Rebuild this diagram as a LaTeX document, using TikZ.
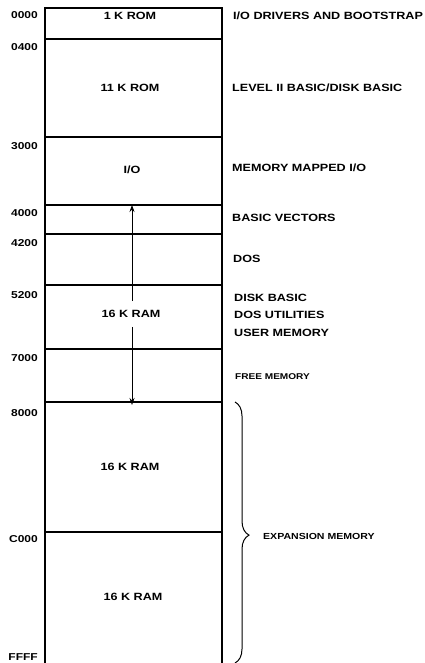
\documentclass[tikz,border=0pt]{standalone}
\usepackage{fontspec}
\setmainfont{Liberation Sans}[FakeStretch=1.2]
\usetikzlibrary{arrows.meta,decorations.pathreplacing}
\begin{document}
\begin{tikzpicture}[x=1pt,y=-1pt,
  box/.style={line width=1.2pt},
  sep/.style={line width=1.4pt},
  addr/.style={anchor=east,font=\fontsize{10}{11}\selectfont\bfseries,inner sep=0pt},
  lbl/.style={anchor=center,font=\fontsize{10.5}{12}\selectfont\bfseries,inner sep=0pt},
  desc/.style={anchor=west,font=\fontsize{10.5}{12}\selectfont\bfseries,inner sep=0pt},
  small/.style={anchor=west,font=\fontsize{8.4}{10}\selectfont\bfseries,inner sep=0pt},
  exp/.style={anchor=west,font=\fontsize{8.8}{10}\selectfont\bfseries,inner sep=0pt},
  arr/.style={line width=0.8pt,-{Stealth[length=7pt,width=5pt]}}]
\useasboundingbox (0,0) rectangle (425,663);
% outline
\draw[box] (45,665) -- (45,8) -- (222,8) -- (222,665);
% separators
\draw[sep] (45,39) -- (222,39);
\draw[sep] (45,137) -- (222,137);
\coordinate (l4000) at (132,205);
\draw[sep] (45,205) -- (222,205);
\draw[sep] (45,234) -- (222,234);
\draw[sep] (45,285) -- (222,285);
\draw[sep] (45,349) -- (222,349);
\coordinate (l8000) at (132,402);
\draw[sep] (45,402) -- (222,402);
\draw[sep] (45,532) -- (222,532);
% addresses
\node[addr] (a0) at (38,15) {0000};
\node[addr] (a1) at (38,47) {0400};
\node[addr] (a2) at (38,146) {3000};
\node[addr] (a3) at (38,213) {4000};
\node[addr] (a4) at (38,243) {4200};
\node[addr] (a5) at (38,295) {5200};
\node[addr] (a6) at (38,358) {7000};
\node[addr] (a7) at (38,413) {8000};
\node[addr] (a8) at (38,539) {C000};
\node[addr] (a9) at (38,657) {FFFF};
% block labels
\node[lbl] (rom1) at (130,16) {1 K ROM};
\node[lbl] (rom11) at (130,88) {11 K ROM};
\node[lbl] (io) at (132,170) {I/O};
\node[lbl,fill=white,inner xsep=2pt,inner ysep=9pt] (ram1) at (131,314) {16 K RAM};
\node[lbl] (ram2) at (130,467) {16 K RAM};
\node[lbl] (ram3) at (133,597) {16 K RAM};
% arrows
\draw[arr] (ram1.north -| l4000) -- (l4000);
\draw[arr] (ram1.south -| l4000) -- ([yshift=-3pt]l8000);
% descriptions
\node[desc] (d0) at (233,16) {I/O DRIVERS AND BOOTSTRAP};
\node[desc] (d1) at (232,88) {LEVEL II BASIC/DISK BASIC};
\node[desc] (d2) at (232,168) {MEMORY MAPPED I/O};
\node[desc] (d3) at (232,218) {BASIC VECTORS};
\node[desc] (d4) at (233,259) {DOS};
\node[desc] (d5) at (234,298) {DISK BASIC};
\node[desc] (d6) at (234,315) {DOS UTILITIES};
\node[desc] (d7) at (234,333) {USER MEMORY};
\node[small] (d8) at (235,377) {FREE MEMORY};
\node[exp] (d9) at (263,536) {EXPANSION MEMORY};
% brace
\coordinate (bt) at (235,402);
\coordinate (bb) at (235,663);
\draw[line width=1pt,decorate,decoration={brace,amplitude=14pt,aspect=0.51}] (bt) -- (bb);
\end{tikzpicture}
\end{document}
